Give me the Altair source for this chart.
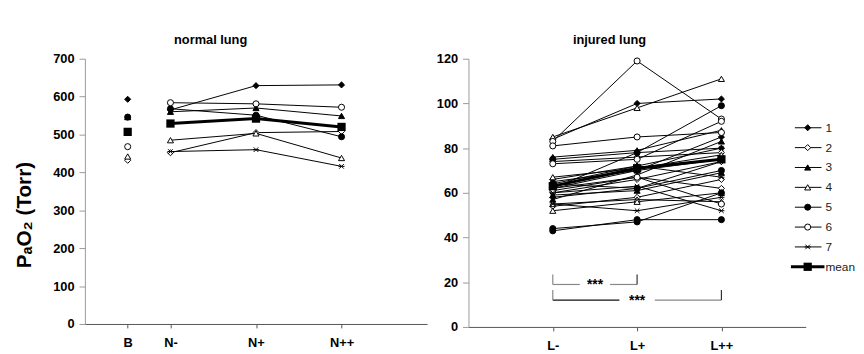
import altair as alt
import pandas as pd

# ---------------- data ----------------
animals = ["1", "2", "3", "4", "5", "6", "7", "mean"]
ASTER = "M-1,0H1M-0.75,-0.75L0.75,0.75M-0.75,0.75L0.75,-0.75"
shape_range = ["diamond", "diamond", "triangle-up", "triangle-up", "circle", "circle", ASTER, "square"]
fill_range = ["black", "white", "black", "white", "black", "white", "black", "black"]

# normal lung
left_labels = ["B", "N-", "N+", "N++"]
left_pos = [0.5, 1, 2, 3]
left_B = [593, 432, 546, 442, 546, 468, None]
left_Nm = [565, 452, 560, 485, 568, 584, 455]
left_Np = [629, 505, 570, 503, 551, 581, 460]
left_Npp = [631, 508, 549, 438, 494, 572, 416]
left_mean = [507, 529, 542, 520]

# injured lung (L-, L+, L++), four runs per animal
right_labels = ["L-", "L+", "L++"]
right_pos = [1, 2, 3]
inj_1 = [[84, 100, 102], [66, 72, 80], [58, 62, 74], [62, 70, 85]]
inj_2 = [[74, 76, 78], [60, 66, 74], [54, 58, 66], [62, 67, 62]]
inj_3 = [[76, 79, 88], [65, 70, 75], [59, 61, 69], [57, 68, 83]]
inj_4 = [[85, 98, 111], [55, 57, 56], [52, 56, 60], [67, 71, 77]]
inj_5 = [[43, 48, 48], [44, 47, 60], [75, 78, 99], [64, 62, 70]]
inj_6 = [[83, 119, 93], [81, 85, 87], [73, 75, 92], [61, 67, 55]]
inj_7 = [[62, 78, 80], [55, 52, 58], [60, 63, 52], [64, 72, 67]]
inj_mean = [63, 71, 75]

# significance brackets: (from, to, level, text position)
br_from = [1, 1]
br_to = [2, 3]
br_level = [19, 12]
br_text_x = [1.5, 2.0]
br_text = ["***", "***"]

FONT = "Liberation Sans"

# ---------------- tables ----------------
lp_rows, ll_rows = [], []
for i, a in enumerate(animals[:7]):
    vals = [left_B[i], left_Nm[i], left_Np[i], left_Npp[i]]
    for j, v in enumerate(vals):
        if v is None:
            continue
        lp_rows.append({"animal": a, "x": left_pos[j], "v": v})
        if j > 0:
            ll_rows.append({"animal": a, "run": a, "x": left_pos[j], "v": v})
df_lp = pd.DataFrame(lp_rows)
df_ll = pd.DataFrame(ll_rows)
df_lmean = pd.DataFrame({"animal": "mean", "x": left_pos, "v": left_mean})
df_lmean_line = df_lmean.iloc[1:]

r_rows = []
for a, runs in zip(animals[:7], [inj_1, inj_2, inj_3, inj_4, inj_5, inj_6, inj_7]):
    for k, run in enumerate(runs):
        for j, v in enumerate(run):
            r_rows.append({"animal": a, "run": f"{a}-{k}", "x": right_pos[j], "v": v})
df_r = pd.DataFrame(r_rows)
df_rmean = pd.DataFrame({"animal": "mean", "x": right_pos, "v": inj_mean})

seg_rows, txt_rows = [], []
tick_h = 4.5
gaps = [0.18, 0.21]
for k in range(len(br_from)):
    f, t, y, tx = br_from[k], br_to[k], br_level[k], br_text_x[k]
    g = gaps[k]
    c_left = "#888888" if k == 0 else "#111111"
    seg_rows.append({"x": f, "x2": tx - g, "y": y, "y2": y, "c": c_left})
    seg_rows.append({"x": tx + g, "x2": t, "y": y, "y2": y, "c": "#888888"})
    seg_rows.append({"x": f, "x2": f, "y": y, "y2": y + tick_h, "c": "#888888"})
    seg_rows.append({"x": t, "x2": t, "y": y, "y2": y + tick_h, "c": "#333333"})
    txt_rows.append({"x": tx, "y": y, "t": br_text[k]})
df_seg = pd.DataFrame(seg_rows)
df_txt = pd.DataFrame(txt_rows)

df_leg = pd.DataFrame({"animal": animals})

# ---------------- encodings ----------------
shape_enc = alt.Shape("animal:N", scale=alt.Scale(domain=animals, range=shape_range), legend=None)
fill_enc = alt.Fill("animal:N", scale=alt.Scale(domain=animals, range=fill_range), legend=None)


def lbl_expr(pos, labels):
    e = "''"
    for p, l in zip(reversed(pos), reversed(labels)):
        e = f"datum.value == {p} ? '{l}' : ({e})"
    return e


def x_enc(pos, labels):
    return alt.X("x:Q", scale=alt.Scale(domain=[0, 4], nice=False, zero=False),
                 axis=alt.Axis(values=pos, labelExpr=lbl_expr(pos, labels), title=None,
                               grid=False, tickSize=4, labelPadding=9, labelFontSize=13,
                               labelFontWeight="bold", labelFont=FONT, labelColor="black",
                               domainColor="#555", tickColor="#555"))


def y_enc(domain, step, title=None):
    ax = dict(values=list(range(domain[0], domain[1] + 1, step)), grid=False, tickSize=6,
              labelPadding=5, labelFontSize=13, labelFontWeight="bold", labelFont=FONT,
              labelColor="black", domainColor="#999", tickColor="#999")
    if title:
        ax.update(title=title, titleFont=FONT, titleFontSize=21, titleFontWeight="bold",
                  titleColor="black", titleAngle=-90, titleX=-61, titleY=158,
                  titleBaseline="middle", titleAlign="center")
    else:
        ax.update(title=None)
    return alt.Y("v:Q", scale=alt.Scale(domain=domain, nice=False), axis=alt.Axis(**ax))


def panel_layers(df_lines, df_pts, df_mean_line, df_mean_pts, pos, labels, domain, step, ytitle=None):
    xe = x_enc(pos, labels)
    ye = y_enc(domain, step, ytitle)
    lines = alt.Chart(df_lines).mark_line(color="black", strokeWidth=1).encode(
        x=xe, y=ye, detail="run:N")
    pts = alt.Chart(df_pts).mark_point(filled=True, size=38, stroke="black", strokeWidth=1,
                                       opacity=1).encode(x=xe, y=ye, shape=shape_enc, fill=fill_enc)
    mline = alt.Chart(df_mean_line).mark_line(color="black", strokeWidth=3).encode(x=xe, y=ye)
    mpts = alt.Chart(df_mean_pts).mark_point(filled=True, size=70, shape="square", color="black",
                                             opacity=1).encode(x=xe, y=ye)
    return [lines, pts, mline, mpts]


def ttl(text, dx):
    return alt.TitleParams(text, font=FONT, fontSize=13, fontWeight="bold", color="black",
                           dx=dx, offset=6, anchor="middle")


left = alt.layer(*panel_layers(df_ll, df_lp, df_lmean_line, df_lmean, left_pos, left_labels,
                               [0, 700], 100, "PₐO₂ (Torr)")).properties(
    width=347, height=269, title=ttl("normal lung", -46))

r_layers = panel_layers(df_r, df_r, df_rmean, df_rmean, right_pos, right_labels, [0, 120], 20)
segs = alt.Chart(df_seg).mark_rule(strokeWidth=1.2).encode(
    x="x:Q", x2="x2:Q", y="y:Q", y2="y2:Q", color=alt.Color("c:N", scale=None))
stars = alt.Chart(df_txt).mark_text(font=FONT, fontSize=14, fontWeight="bold", color="black",
                                    dy=1).encode(x="x:Q", y="y:Q", text="t:N")
data_layer = alt.layer(*r_layers, segs, stars)

leg_y = alt.Y("animal:N", scale=alt.Scale(type="point", domain=animals, range=[70, 211], padding=0),
              axis=None)
leg_df7 = df_leg[df_leg.animal != "mean"]
leg_dfm = df_leg[df_leg.animal == "mean"]
leg_rule = alt.Chart(leg_df7).mark_rule(color="black", strokeWidth=1).encode(
    x=alt.value(331), x2=alt.value(358), y=leg_y)
leg_pts = alt.Chart(leg_df7).mark_point(filled=True, size=38, stroke="black", strokeWidth=1,
                                        opacity=1).encode(x=alt.value(344), y=leg_y,
                                                          shape=shape_enc, fill=fill_enc)
leg_mrule = alt.Chart(leg_dfm).mark_rule(color="black", strokeWidth=3).encode(
    x=alt.value(327), x2=alt.value(361), y=leg_y)
leg_mpt = alt.Chart(leg_dfm).mark_point(filled=True, size=70, shape="square", color="black",
                                        opacity=1).encode(x=alt.value(344), y=leg_y)
leg_txt = alt.Chart(df_leg).mark_text(font=FONT, fontSize=12, align="left", color="#222").encode(
    x=alt.value(362), y=leg_y, text="animal:N")
legend_layer = alt.layer(leg_rule, leg_pts, leg_mrule, leg_mpt, leg_txt)

right = alt.layer(data_layer, legend_layer).resolve_scale(y="independent").properties(
    width=342, height=272, title=ttl("injured lung", -28))

chart = alt.hconcat(left, right, spacing=9).properties(
    padding={"left": 6, "top": 24, "right": 0, "bottom": 0}
).configure(background="white").configure_view(stroke=None)

chart.save("out.html", embed_options={"renderer": "svg", "actions": False})
